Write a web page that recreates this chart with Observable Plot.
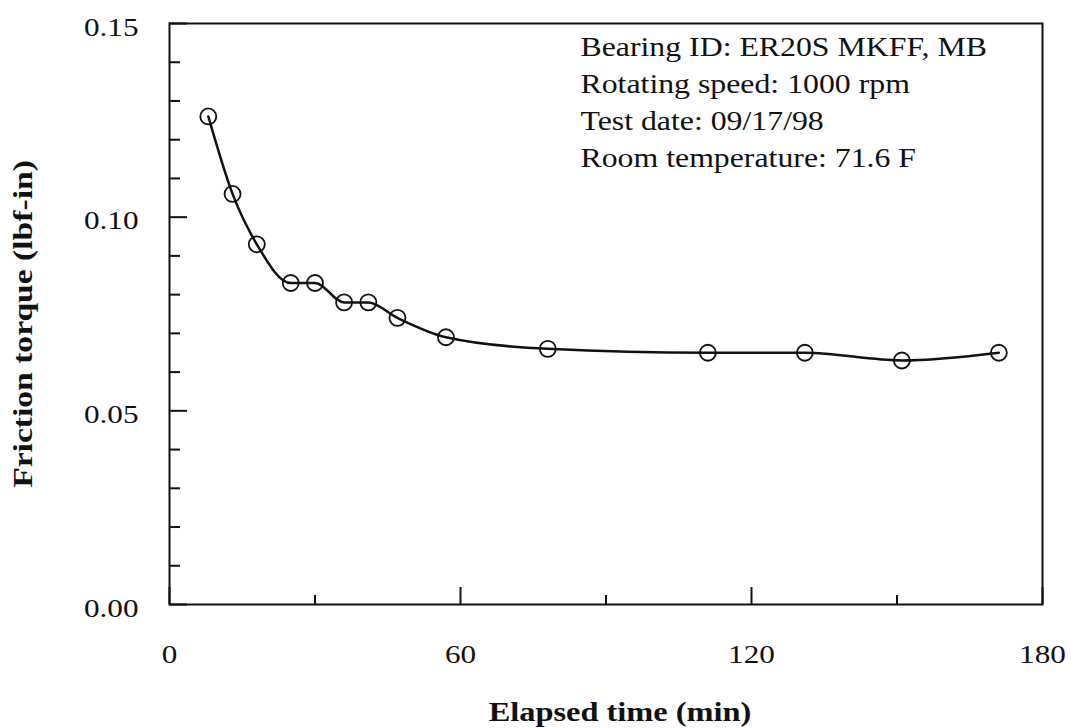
<!DOCTYPE html>
<html>
<head>
<meta charset="utf-8">
<script src="https://cdn.jsdelivr.net/npm/d3@7"></script>
<script src="https://cdn.jsdelivr.net/npm/@observablehq/plot@0.6"></script>
<style>
  html, body { margin: 0; padding: 0; background: #fff; }
  #chart svg { display: block; }
</style>
</head>
<body>
<div id="chart"></div>
<script>
// Elapsed time (min)
const times = [8, 13, 18, 25, 30, 36, 41, 47, 57, 78, 111, 131, 151, 171];
// Friction torque (lbf-in)
const torque = [0.126, 0.106, 0.093, 0.083, 0.083, 0.078, 0.078, 0.074, 0.069, 0.066, 0.065, 0.065, 0.063, 0.065];

const xMajor = [0, 60, 120, 180];
const xMinor = [30, 90, 150];
const yMajor = [0, 0.05, 0.10, 0.15];
const yMinor = [0.01, 0.02, 0.03, 0.04, 0.06, 0.07, 0.08, 0.09, 0.11, 0.12, 0.13, 0.14];

const xLabel = "Elapsed time (min)";
const yLabel = "Friction torque (lbf-in)";
const notes = [
  "Bearing ID: ER20S MKFF, MB",
  "Rotating speed: 1000 rpm",
  "Test date: 09/17/98",
  "Room temperature: 71.6 F"
];

const data = times.map((t, i) => ({t, v: torque[i]}));
const FONT = "'Liberation Serif', 'Times New Roman', serif";
const INK = "#111";
const STRETCH = 1.2; // the reference's lettering is horizontally widened

const chart = Plot.plot({
  width: 1071,
  height: 728,
  marginLeft: 169,
  marginRight: 29,
  marginTop: 23,
  marginBottom: 124,
  style: {fontFamily: FONT, background: "#fff", color: INK},
  x: {domain: [0, 180]},
  y: {domain: [0, 0.15]},
  marks: [
    Plot.frame({stroke: INK, strokeWidth: 2}),
    // inward ticks (text hidden)
    Plot.axisX(xMajor, {anchor: "bottom", tickSize: 17, dy: -17, stroke: INK, strokeWidth: 2, fill: "none", label: null}),
    Plot.axisX(xMinor, {anchor: "bottom", tickSize: 9, dy: -9, stroke: INK, strokeWidth: 2, fill: "none", label: null}),
    Plot.axisY(yMajor, {anchor: "left", tickSize: 18, dx: 18, stroke: INK, strokeWidth: 2, fill: "none", label: null}),
    Plot.axisY(yMinor, {anchor: "left", tickSize: 11, dx: 11, stroke: INK, strokeWidth: 2, fill: "none", label: null}),
    // tick labels
    Plot.axisX(xMajor, {anchor: "bottom", tickSize: 0, tickPadding: 40, fontSize: 26, fill: INK, label: null, tickFormat: d3.format("d")}),
    Plot.axisY(yMajor, {anchor: "left", tickSize: 0, tickPadding: 31, fontSize: 26, fill: INK, dy: 4, label: null, tickFormat: d3.format(".2f")}),
    // data
    Plot.line(data, {x: "t", y: "v", curve: "monotone-x", stroke: INK, strokeWidth: 2.5}),
    Plot.dot(data, {x: "t", y: "v", r: 8, stroke: INK, strokeWidth: 1.8, fill: "none"}),
    // annotation
    Plot.text([notes.join("\n")], {frameAnchor: "top-left", dx: 411, dy: 6, textAnchor: "start", lineAnchor: "top", lineHeight: 1.4, fontSize: 26.5, fill: INK}),
    // axis labels
    Plot.text([xLabel], {frameAnchor: "bottom", dx: 14, dy: 108, textAnchor: "middle", lineAnchor: "middle", fontSize: 27, fontWeight: "bold", fill: INK}),
    Plot.text([yLabel], {frameAnchor: "left", rotate: -90, dx: -146, dy: 10, textAnchor: "middle", lineAnchor: "middle", fontSize: 28, fontWeight: "bold", fill: INK})
  ]
});

// widen every text element along its own reading direction, around its anchor
d3.select(chart).selectAll("text").each(function () {
  const t = this.getAttribute("transform") || "";
  this.setAttribute("transform", `${t} scale(${STRETCH},1)`);
});

document.getElementById("chart").appendChild(chart);
</script>
</body>
</html>
